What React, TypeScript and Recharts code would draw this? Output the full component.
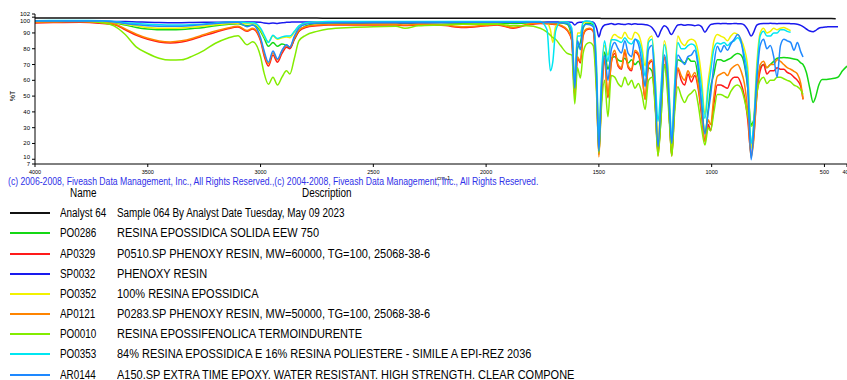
import { LineChart, Line, XAxis, YAxis } from "recharts"

// wavenumber grid (cm-1), shared by every spectrum
const wavenumbers = [
  4000, 3900, 3800, 3700, 3650, 3600, 3550, 3500, 3450, 3400,
  3350, 3300, 3250, 3200, 3150, 3100, 3060, 3035, 3000, 2985,
  2965, 2945, 2925, 2905, 2885, 2870, 2850, 2830, 2800, 2750,
  2700, 2600, 2500, 2400, 2360, 2300, 2200, 2100, 2000, 1950,
  1880, 1820, 1760, 1730, 1715, 1704, 1692, 1670, 1640,
  1620, 1607, 1595, 1582, 1570, 1555, 1540, 1525, 1510, 1500,
  1490, 1475, 1460, 1445, 1430, 1415, 1400, 1385, 1370, 1355,
  1340, 1325, 1310, 1295, 1280, 1265, 1250, 1238, 1225, 1210,
  1195, 1185, 1177, 1165, 1150, 1135, 1120, 1105, 1090, 1075,
  1060, 1045, 1030, 1015, 1005, 990, 975, 960, 945, 930,
  915, 900, 885, 870, 855, 840, 825, 815, 800, 785,
  770, 755, 740, 725, 710, 695, 680, 665, 650, 635,
  620, 605, 595, 580, 565, 550, 540, 525, 510, 490,
  470, 450, 440, 420, 400,
]

const analyst64 = [
  99.4, 99.4, 99.4, 99.4, 99.4, 99.4, 99.4, 99.4, 99.4, 99.4,
  99.4, 99.4, 99.4, 99.4, 99.4, 99.4, 99.4, 99.4, 99.4, 99.4,
  99.4, 99.4, 99.4, 99.4, 99.4, 99.4, 99.4, 99.4, 99.4, 99.4,
  99.3, 99.3, 99.3, 99.3, 99.3, 99.3, 99.3, 99.3, 99.3, 99.3,
  99.3, 99.3, 99.3, 99.3, 99.3, 99.3, 99.3, 99.3, 99.3,
  99.3, 99.3, 99.3, 99.3, 99.3, 99.3, 99.3, 99.3, 99.3, 99.3,
  99.2, 99.2, 99.2, 99.2, 99.2, 99.2, 99.2, 99.2, 99.2, 99.2,
  99.2, 99.2, 99.2, 99.2, 99.2, 99.2, 99.2, 99.2, 99.2, 99.2,
  99.2, 99.2, 99.2, 99.2, 99.2, 99.2, 99.2, 99.2, 99.2, 99.2,
  99.2, 99.2, 99.2, 99.2, 99.2, 99.2, 99.2, 99.2, 99.2, 99.2,
  99.1, 99.1, 99.1, 99.1, 99.1, 99.1, 99.1, 99.1, 99.1, 99.1,
  99.1, 99.1, 99.1, 99.1, 99.1, 99.1, 99.1, 99.1, 99.1, 99.1,
  99.1, 99.1, 99.1, 99.1, 99.1, 99.1, 99.1, 99.1, 99.1, 99.1,
  99.1, 99.0, null, null, null,
]

const po0286 = [
  97.5, 97.6, 97.6, 97.3, 96.5, 95, 93.5, 92.5, 92, 92,
  92.2, 92.8, 93.5, 94.5, 95.3, 95.8, 94.5, 95, 91, 87,
  81.5, 84, 81.5, 83, 82, 80.5, 86, 91, 94.5, 96,
  96.3, 96.3, 96.4, 96.4, 96.3, 96.4, 96.4, 96.2, 96.3, 96.3,
  96, 96.3, 96.5, 96.3, 96, 96, 96.2, 96.3, 95.5,
  86, 54, 80, 84, 93, 96, 96, 95, 60, 17,
  45, 78, 67, 74, 75, 73, 72, 74, 71, 73,
  70, 72, 66, 57, 68, 66, 45, 15, 35, 70,
  55, 30, 14, 45, 73, 72, 71, 74, 72, 72,
  62, 45, 27, 42, 55, 64, 73, 73, 72, 73,
  74, 76, 77, 76, 70, 55, 32, 34, 55, 68,
  70, 68, 70, 72, 74, 74.3, 74.5, 74.3, 74, 73.5,
  73, 71, 70, 65, 55, 46, 49, 57, 60.5, 60.5,
  61, 61.5, 62, 66, 69,
]

const ap0329 = [
  96.3, 96.6, 96.8, 96, 95.3, 92, 88.5, 86, 84.3, 83.6,
  84.3, 86, 88.3, 90.5, 92.5, 93.8, 91, 92.5, 85, 76,
  69, 76, 71.5, 77, 81, 80, 86, 91, 93.5, 94.5,
  95, 95, 95, 95, 94.7, 95, 94.8, 93.5, 94.5, 95,
  93, 95, 96, 95.8, 95.6, 95.5, 95.3, 94.5, 91.5,
  85, 50, 74, 71, 88, 92, 92.5, 91, 55, 13,
  45, 73, 49, 71, 77, 69, 67, 78, 68, 66,
  78, 76, 66, 48, 70, 72, 45, 14, 40, 74,
  58, 30, 12.5, 42, 67, 60, 57, 64, 59, 63,
  55, 38, 22, 32, 28, 45, 57, 57, 56, 55,
  60, 62, 62, 58, 50, 35, 13, 22, 50, 66,
  70, 64, 66, 66, 68, 67, 67, 65, 64, 62,
  60, 56, 48, null, null, null, null, null, null, null,
  null, null, null, null, null,
]

const sp0032 = [
  97.2, 97.3, 97.3, 97.4, 97.3, 97.2, 97, 96.8, 96.6, 96.5,
  96.5, 96.6, 96.7, 96.8, 96.9, 96.9, 97, 97, 96.8, 96.3,
  96, 96.3, 96, 96.5, 96.7, 96.8, 97, 97, 97, 96.8,
  96.6, 96.5, 96.5, 96.5, 96.5, 96.5, 96.6, 96.7, 96.8, 96.8,
  96.8, 96.8, 96.9, 96.9, 96.9, 96.9, 96.9, 97, 97,
  96.8, 95, 96.5, 96.8, 97, 97.2, 97.2, 96.8, 93, 87.5,
  92, 95, 95.5, 96, 95.3, 95.8, 95.5, 95.3, 95.9, 95.4,
  95.9, 95.5, 95.5, 95.2, 94.8, 93.5, 90.5, 87.5, 91.5, 94.5,
  93, 90, 89, 92, 95, 95.3, 94.8, 95.2, 95, 94.6,
  95, 94, 90.5, 93.5, 95.3, 95.8, 96, 95.9, 96, 95.9,
  95.8, 96, 95.9, 95.8, 95, 92, 88, 90, 95, 95.9,
  96, 96, 96.1, 96, 95.9, 96, 96, 96, 95.9, 95.8,
  95.5, 94.8, 94, 92.5, 91.2, 90.8, 91.5, 93, 93.5, 93.8,
  94, 94, 94, null, null,
]

const po0352 = [
  97.5, 97.6, 97.6, 97.4, 96.8, 95.5, 94.5, 93.5, 93, 93,
  93.2, 93.7, 94.4, 95.2, 95.8, 96.2, 95.8, 96, 92, 88,
  84.5, 88, 86, 87, 87.5, 87, 90.5, 94, 96, 96.8,
  97, 97, 97, 97, 97, 97, 97, 97, 97, 97,
  97, 97, 97, 96.5, 92, 84, 94, 97, 96.5,
  90, 60, 90, 90, 96, 97, 97, 96, 65, 19,
  55, 82, 76, 86, 89, 87.5, 86.7, 90.5, 87, 86,
  90.5, 89, 82, 69, 86, 88, 60, 22, 50, 85,
  70, 40, 18, 55, 88, 84, 82, 85, 86, 85,
  78, 62, 38, 60, 70, 85, 89, 88, 87, 85,
  88, 90, 89, 86, 80, 68, 17, 30, 70, 90,
  93, 90, 91, 93, 92, 93, 93.5, 92.5, 91.5, null,
  null, null, null, null, null, null, null, null, null, null,
  null, null, null, null, null,
]

const ap0121 = [
  96.8, 97, 97.1, 96.4, 95.7, 92.6, 89.2, 86.6, 84.9, 84.3,
  85, 86.7, 89, 91.2, 93, 94.2, 91.6, 93, 86, 77.5,
  70.5, 77.5, 73, 78.5, 82, 81.2, 87, 91.8, 94, 95,
  95.4, 95.4, 95.4, 95.4, 95.1, 95.4, 95.2, 94, 94.9, 95.4,
  93.5, 95.4, 96.3, 96.1, 95.9, 95.8, 95.6, 94.9, 92,
  86, 50, 75, 72, 89, 92.5, 93, 91.5, 55, 11.5,
  44, 74, 50, 72, 79, 70, 68, 79.5, 69, 67,
  79, 77, 67, 48, 71, 73, 45, 12, 38, 75,
  58, 30, 12, 42, 68, 63, 60, 66, 62, 65,
  57, 40, 21, 35, 32, 50, 62.5, 64, 65, 63,
  67, 69, 70, 66, 58, 40, 11, 20, 50, 70,
  72, 68, 70, 70, 73, 72, 70, 68, 67, 65.7,
  64, 58, 48, null, null, null, null, null, null, null,
  null, null, null, null, null,
]

const po0010 = [
  97.6, 97.6, 97.5, 96.5, 94.5, 89, 81, 77, 74, 72.8,
  73, 75.5, 79, 83.5, 86.5, 88.3, 82.5, 84.5, 75, 65,
  57.5, 62, 57, 62, 66, 64, 74, 85, 88.5, 91,
  92.5, 93.5, 94, 94.2, 93, 94.5, 95, 95.5, 95.5, 95.5,
  94.5, 94.5, 93, 90.5, 88.5, 87, 86, 82, 77,
  76, 45, 68, 61.5, 77, 83, 84, 82, 50, 14,
  40, 60, 37, 63, 62, 58, 56, 62, 57, 60,
  55, 58, 52, 41.5, 60, 62, 42, 12, 35, 70,
  50, 28, 12, 38, 56, 50, 46, 50, 52, 54,
  45, 30, 19, 30, 28, 40, 51, 51, 50, 49,
  53, 56, 57, 55, 48, 38, 31, 33, 52, 60,
  62, 58, 60, 60, 62, 62, 61, 60, 59, 57,
  56, 54, 51, null, null, null, null, null, null, null,
  null, null, null, null, null,
]

const po0353 = [
  97.8, 97.9, 97.9, 97.8, 97.3, 96.5, 96, 95.5, 95.2, 95,
  95, 95.3, 95.7, 96.3, 96.8, 97, 96.5, 96.5, 93, 89,
  84, 88.5, 86.5, 87.5, 88, 88, 91, 94.5, 96.5, 97,
  97.2, 97.3, 97.3, 97.3, 97.3, 97.3, 97.3, 97.3, 97.3, 97.3,
  97.3, 97.3, 97.3, 92, 66, 72, 91, 97, 97,
  93, 58, 88, 88, 97, 97.5, 97.3, 96, 68, 22,
  58, 85, 72, 85.7, 85.7, 85, 84, 87, 84, 83,
  86, 85, 78, 62.5, 84, 86, 60, 34, 55, 82.5,
  68, 42, 22, 55, 84, 80, 80, 82, 83, 82,
  72, 55, 36, 55, 65, 80, 83.6, 83, 84, 82,
  84, 85, 87, 84, 76, 62, 20, 30, 65, 88,
  91, 88, 88, 90, 90, 92, 92, 91, 90.5, null,
  null, null, null, null, null, null, null, null, null, null,
  null, null, null, null, null,
]

const ar0144 = [
  97.5, 97.6, 97.6, 97.5, 97, 96, 95.2, 94.6, 94.3, 94.2,
  94.3, 94.7, 95.3, 96, 96.5, 96.7, 94, 95, 87, 79,
  71.5, 78.5, 73.5, 79, 82.5, 81, 88, 93, 95.5, 96.3,
  96.5, 96.6, 96.7, 96.7, 96.7, 96.7, 96.7, 96.7, 96.7, 96.7,
  96.7, 96.7, 96.7, 96.6, 96.6, 96.6, 96.6, 96.5, 96,
  90, 55, 85, 79.4, 94, 95.5, 95.2, 94, 60, 15,
  50, 76, 60, 79.4, 84, 80, 77.3, 85, 77, 75,
  86, 83, 72, 56, 79.4, 82, 52, 18, 45, 76,
  62, 35, 20, 48, 76, 73, 70, 75, 76, 79,
  68, 45, 26, 40, 50, 70, 81.5, 78, 82, 79,
  83, 86, 89, 85, 72, 55, 9.7, 25, 60, 82,
  86, 80, 82, 75, 62, 82, 86, 85, 84, 79,
  84, 78, 74.8, null, null, null, null, null, null, null,
  null, null, null, null, null,
]

const xTicks = [4000, 3500, 3000, 2500, 2000, 1500, 1000, 500, 400]
const yTicks = [7, 10, 20, 30, 40, 50, 60, 70, 80, 90, 100, 102]

const series = [
  { key: "analyst64", name: "Analyst 64", desc: "Sample 064 By Analyst Date Tuesday, May 09 2023", color: "#111111", values: analyst64 },
  { key: "po0286", name: "PO0286", desc: "RESINA EPOSSIDICA SOLIDA EEW 750", color: "#14d814", values: po0286 },
  { key: "ap0329", name: "AP0329", desc: "P0510.SP PHENOXY RESIN, MW=60000, TG=100, 25068-38-6", color: "#ff1a1a", values: ap0329 },
  { key: "sp0032", name: "SP0032", desc: "PHENOXY RESIN", color: "#1a1aee", values: sp0032 },
  { key: "po0352", name: "PO0352", desc: "100% RESINA EPOSSIDICA", color: "#f2f200", values: po0352 },
  { key: "ap0121", name: "AP0121", desc: "P0283.SP PHENOXY RESIN, MW=50000, TG=100, 25068-38-6", color: "#ff8400", values: ap0121 },
  { key: "po0010", name: "PO0010", desc: "RESINA EPOSSIFENOLICA TERMOINDURENTE", color: "#84ec00", values: po0010 },
  { key: "po0353", name: "PO0353", desc: "84% RESINA EPOSSIDICA E 16% RESINA POLIESTERE - SIMILE A EPI-REZ 2036", color: "#00e6f2", values: po0353 },
  { key: "ar0144", name: "AR0144", desc: "A150.SP EXTRA TIME EPOXY. WATER RESISTANT. HIGH STRENGTH. CLEAR COMPONE", color: "#1e88ff", values: ar0144 },
]

const rows = wavenumbers.map((w, i) => {
  const row: Record<string, number | null> = { w }
  series.forEach((s) => {
    row[s.key] = s.values[i]
  })
  return row
})

const FONT = '"Liberation Sans", Arial, sans-serif'

function YTick(props: any) {
  const { x, y, payload } = props
  // the original nudges a few labels so they don't collide
  const nudge = payload.value === 100 ? 4 : payload.value === 10 ? -2 : 0
  return (
    <text x={x} y={y + nudge} dy={2} textAnchor="end" fontSize={6} fontFamily={FONT} fill="#000">
      {payload.value}
    </text>
  )
}

function XTick(props: any) {
  const { x, y, payload } = props
  return (
    <text x={x} y={y} dy={5} textAnchor="middle" fontSize={5.5} fontFamily={FONT} fill="#000">
      {payload.value}
    </text>
  )
}

// the source uses a condensed face; squeeze Liberation Sans to match
const narrow = (scale: number): React.CSSProperties => ({
  display: "inline-block",
  transform: `scaleX(${scale})`,
  transformOrigin: "left center",
  whiteSpace: "nowrap",
})

// capitals come out wider in the original than plain lowercase text
const descScale = (text: string) => (/[a-z]{3}/.test(text) ? 0.824 : 0.915)

export default function App() {
  return (
    <div style={{ position: "relative", width: 847, height: 380, background: "#fff", fontFamily: FONT, overflow: "hidden" }}>
      <style>{"body{margin:0}"}</style>
      <LineChart width={847} height={176} data={rows} margin={{ top: 14, right: 0, bottom: 0, left: 0 }}>
        <XAxis
          type="number"
          dataKey="w"
          domain={[400, 4000]}
          reversed
          ticks={xTicks}
          interval={0}
          height={12}
          tickSize={3}
          tick={XTick}
          axisLine={{ stroke: "#000" }}
          tickLine={{ stroke: "#000" }}
          allowDataOverflow
        />
        <YAxis
          type="number"
          domain={[7, 102]}
          ticks={yTicks}
          interval={0}
          width={35}
          tickSize={3}
          tick={YTick}
          axisLine={{ stroke: "#000" }}
          tickLine={{ stroke: "#000" }}
          allowDataOverflow
        />
        {series.map((s) => (
          <Line
            key={s.key}
            dataKey={s.key}
            type="monotone"
            stroke={s.color}
            strokeWidth={1.5}
            dot={false}
            activeDot={false}
            isAnimationActive={false}
          />
        ))}
      </LineChart>

      <div style={{ position: "absolute", left: 12, top: 96, transform: "translate(-50%, -50%) rotate(-90deg)", fontSize: 7 }}>%T</div>
      <div style={{ position: "absolute", left: 437, top: 175, fontSize: 6 }}>cm-1</div>

      <div style={{ position: "absolute", left: 8, top: 176, fontSize: 10, lineHeight: "12px", color: "#3030e8" }}>
        <span style={narrow(0.865)}>
          (c) 2006-2008, Fiveash Data Management, Inc., All Rights Reserved.,(c) 2004-2008, Fiveash Data Management, Inc., All Rights Reserved.
        </span>
      </div>

      <div style={{ position: "absolute", left: 70, top: 186, fontSize: 12, lineHeight: "14px" }}>
        <span style={narrow(0.824)}>Name</span>
      </div>
      <div style={{ position: "absolute", left: 302, top: 186, fontSize: 12, lineHeight: "14px" }}>
        <span style={narrow(0.824)}>Description</span>
      </div>

      {series.map((s, i) => {
        const cy = Math.round(213.3 + i * 20.15)
        return (
          <div key={s.key}>
            <div style={{ position: "absolute", left: 10, top: cy - 1, width: 40, height: 2, background: s.color }} />
            <div style={{ position: "absolute", left: 60, top: cy - 7, fontSize: 12, lineHeight: "14px" }}>
              <span style={narrow(0.824)}>{s.name}</span>
            </div>
            <div style={{ position: "absolute", left: 117, top: cy - 7, fontSize: 12, lineHeight: "14px" }}>
              <span style={narrow(descScale(s.desc))}>{s.desc}</span>
            </div>
          </div>
        )
      })}
    </div>
  )
}
